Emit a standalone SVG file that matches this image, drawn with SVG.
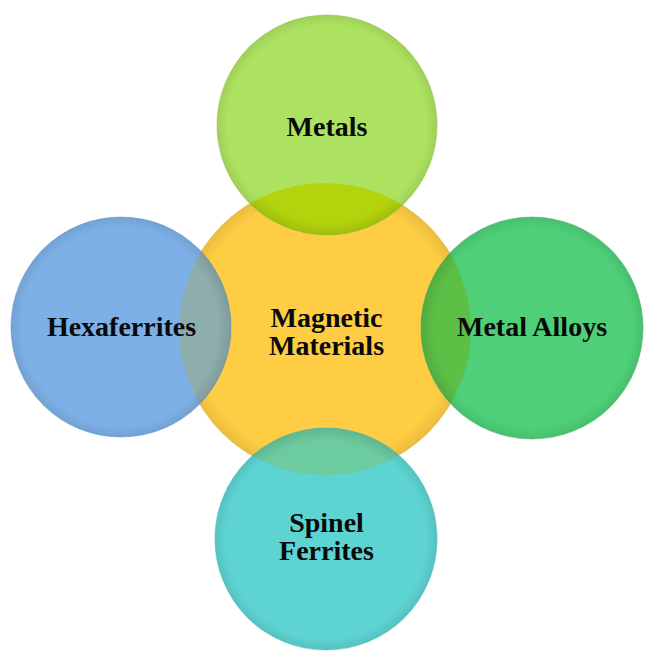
<svg xmlns="http://www.w3.org/2000/svg" width="654" height="660" viewBox="0 0 654 660">
<style>
.lbl{font-family:"Liberation Serif","Times New Roman",serif;font-weight:bold;font-size:28px;fill:#0a0a0a;text-anchor:middle}
.rim{fill:none;stroke-width:1.2;stroke-opacity:0.45}
</style>
<defs>
<radialGradient id="shade" cx="0.5" cy="0.5" r="0.5">
<stop offset="0.9" stop-color="#000" stop-opacity="0"/>
<stop offset="1" stop-color="#000" stop-opacity="0.08"/>
</radialGradient>
<radialGradient id="lensShade" cx="0.5" cy="0.5" r="0.5">
<stop offset="0.88" stop-color="#000" stop-opacity="0"/>
<stop offset="1" stop-color="#000" stop-opacity="0.1"/>
</radialGradient>
<clipPath id="clipCenter"><circle cx="325" cy="329" r="146"/></clipPath>
</defs>
<rect width="654" height="660" fill="#ffffff"/>
<g id="center">
<circle cx="325" cy="329" r="146" fill="#ffcd44"/>
<circle cx="325" cy="329" r="146" fill="url(#shade)"/>
<circle cx="325" cy="329" r="146" class="rim" stroke="#e0a820"/>
</g>
<g id="metals">
<circle cx="327" cy="125" r="110" fill="#ade261"/>
<circle cx="327" cy="125" r="110" fill="url(#shade)"/>
<circle cx="327" cy="125" r="110" fill="#b3d40c" clip-path="url(#clipCenter)"/>
<circle cx="327" cy="125" r="110" fill="url(#lensShade)" clip-path="url(#clipCenter)"/>
<circle cx="327" cy="125" r="110" class="rim" stroke="#8fbf3e"/>
<text class="lbl" x="327" y="136">Metals</text>
</g>
<g id="hexaferrites">
<circle cx="121" cy="327" r="110" fill="#7db0e6"/>
<circle cx="121" cy="327" r="110" fill="url(#shade)"/>
<circle cx="121" cy="327" r="110" fill="#8eadad" clip-path="url(#clipCenter)"/>
<circle cx="121" cy="327" r="110" fill="url(#lensShade)" clip-path="url(#clipCenter)"/>
<circle cx="121" cy="327" r="110" class="rim" stroke="#5f8fc4"/>
<text class="lbl" x="121.5" y="336">Hexaferrites</text>
</g>
<g id="metal-alloys">
<circle cx="532" cy="328" r="111" fill="#4ecf78"/>
<circle cx="532" cy="328" r="111" fill="url(#shade)"/>
<circle cx="532" cy="328" r="111" fill="#5cbf46" clip-path="url(#clipCenter)"/>
<circle cx="532" cy="328" r="111" fill="url(#lensShade)" clip-path="url(#clipCenter)"/>
<circle cx="532" cy="328" r="111" class="rim" stroke="#39ad5e"/>
<text class="lbl" x="532" y="336">Metal Alloys</text>
</g>
<g id="spinel-ferrites">
<circle cx="326" cy="539" r="111" fill="#5dd3d2"/>
<circle cx="326" cy="539" r="111" fill="url(#shade)"/>
<circle cx="326" cy="539" r="111" fill="#6ccb9f" clip-path="url(#clipCenter)"/>
<circle cx="326" cy="539" r="111" fill="url(#lensShade)" clip-path="url(#clipCenter)"/>
<circle cx="326" cy="539" r="111" class="rim" stroke="#3fb3b2"/>
<text class="lbl" x="326.5" y="532">Spinel</text>
<text class="lbl" x="326.5" y="560">Ferrites</text>
</g>
<g id="center-label">
<text class="lbl" x="326.5" y="327">Magnetic</text>
<text class="lbl" x="326.5" y="355">Materials</text>
</g>
<g id="connectors"></g>
</svg>
